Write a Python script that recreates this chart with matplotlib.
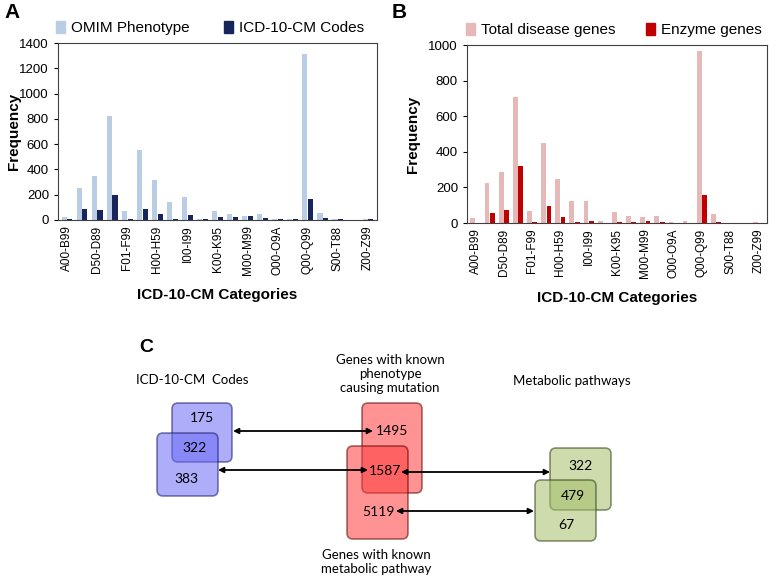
import numpy as np
import matplotlib
matplotlib.use('Agg')
import matplotlib.pyplot as plt
from matplotlib.patches import FancyBboxPatch, Patch

plt.rcParams['font.family'] = ['Liberation Sans', 'DejaVu Sans']

# ICD-10-CM chapters
categories = ['A00-B99', 'C00-D49', 'D50-D89', 'E00-E89', 'F01-F99', 'G00-G99',
              'H00-H59', 'H60-H95', 'I00-I99', 'J00-J99', 'K00-K95', 'L00-L99',
              'M00-M99', 'N00-N99', 'O00-O9A', 'P00-P96', 'Q00-Q99', 'R00-R99',
              'S00-T88', 'V00-Y99', 'Z00-Z99']

# panel A
omim_pheno = [25, 250, 345, 820, 75, 555, 315, 140, 180, 5, 70, 45, 35, 45, 5, 5, 1315, 55, 5, 0, 5]
icd_codes = [10, 90, 80, 195, 10, 90, 45, 10, 40, 10, 25, 25, 30, 15, 8, 10, 170, 15, 8, 0, 8]

# panel B
total_genes = [28, 222, 287, 710, 68, 452, 245, 125, 125, 12, 62, 38, 36, 42, 5, 12, 968, 52, 2, 0, 5]
enzyme_genes = [0, 58, 73, 322, 7, 93, 32, 7, 12, 0, 7, 7, 12, 7, 0, 0, 157, 7, 0, 0, 0]

# panel C numbers
icd_counts = [175, 322, 383]
gene_counts = [1495, 1587, 5119]
path_counts = [322, 479, 67]

W, H = 778, 579
fig = plt.figure(figsize=(W / 100, H / 100), dpi=100)


def px_axes(l, t, r, b):
    return fig.add_axes([l / W, 1 - b / H, (r - l) / W, (b - t) / H])


def bar_panel(ax, s1, s2, c1, c2, ymax, ystep, ylab_x):
    x = np.arange(len(categories))
    ax.bar(x - 0.19, s1, width=0.34, color=c1)
    ax.bar(x + 0.19, s2, width=0.34, color=c2)
    ax.set_xlim(-0.6, len(categories) - 0.4)
    ax.set_ylim(0, ymax)
    ax.set_yticks(np.arange(0, ymax + 1, ystep))
    ax.set_xticks(x[::2])
    ax.set_xticklabels(categories[::2], rotation=90, fontsize=8.5)
    ax.tick_params(axis='x', length=0, pad=4)
    ax.tick_params(axis='y', labelsize=9.5, length=3)
    for s in ax.spines.values():
        s.set_color('#404040')
        s.set_linewidth(0.8)
    ax.set_ylabel('Frequency', fontsize=11, fontweight='bold')
    ax.yaxis.set_label_coords(ylab_x, 0.5)
    ax.set_xlabel('ICD-10-CM Categories', fontsize=11, fontweight='bold', labelpad=9)


axA = px_axes(58, 43, 377, 220)
bar_panel(axA, omim_pheno, icd_codes, '#b9cde5', '#17255a', 1400, 200, -0.115)
axA.legend(handles=[Patch(color='#b9cde5', label='OMIM Phenotype'),
                    Patch(color='#17255a', label='ICD-10-CM Codes')],
           loc='lower left', bbox_to_anchor=(-0.03, 1.0), ncol=2, frameon=False,
           fontsize=11, handlelength=0.6, handleheight=0.9, columnspacing=2.2,
           handletextpad=0.4, borderaxespad=0.1)

axB = px_axes(467, 45, 767, 223)
bar_panel(axB, total_genes, enzyme_genes, '#e6b9b8', '#c00000', 1000, 200, -0.157)
axB.legend(handles=[Patch(color='#e6b9b8', label='Total disease genes'),
                    Patch(color='#c00000', label='Enzyme genes')],
           loc='lower left', bbox_to_anchor=(-0.03, 1.0), ncol=2, frameon=False,
           fontsize=11, handlelength=0.6, handleheight=0.9, columnspacing=2.0,
           handletextpad=0.4, borderaxespad=0.1)

fig.text(4 / W, 1 - 12 / H, 'A', fontsize=15, fontweight='bold', va='center')
fig.text(392 / W, 1 - 12 / H, 'B', fontsize=15, fontweight='bold', va='center')

# panel C: overlay in pixel coordinates
axC = fig.add_axes([0, 0, 1, 1], zorder=-1)
axC.set_xlim(0, W)
axC.set_ylim(H, 0)
axC.axis('off')

nf = ['Lato', 'DejaVu Sans']


def box(x0, y0, x1, y1, fc, ec):
    axC.add_patch(FancyBboxPatch((x0 + 6, y0 + 6), x1 - x0 - 12, y1 - y0 - 12,
                                 boxstyle='round,pad=6', fc=fc, ec=ec, lw=1.2, alpha=0.55))


box(172, 403, 232, 462, '#6a6af5', '#1a1a6a')
box(157, 433, 218, 496, '#6a6af5', '#1a1a6a')
box(362, 403, 422, 493, '#ff3a3a', '#5a0000')
box(347, 446, 408, 539, '#ff3a3a', '#5a0000')
box(550, 448, 611, 510, '#a4bf6a', '#2f3f10')
box(535, 480, 596, 541, '#a4bf6a', '#2f3f10')

num_pos = [((202, 418), (195, 448), (186, 479)),
           ((392, 431), (385, 471), (378, 512)),
           ((581, 466), (573, 496), (566, 525))]
for counts, pos in zip([icd_counts, gene_counts, path_counts], num_pos):
    for v, (xx, yy) in zip(counts, pos):
        axC.text(xx, yy, str(v), ha='center', va='center', fontsize=10, family=nf)

for (xa, xb, yy) in [(233, 373, 431), (218, 368, 470), (401, 550, 472), (396, 534, 511)]:
    axC.annotate('', xy=(xb, yy), xytext=(xa, yy),
                 arrowprops=dict(arrowstyle='<|-|>', color='black', lw=1.3,
                                 mutation_scale=8, shrinkA=0, shrinkB=0))

axC.text(146, 348, 'C', fontsize=14, fontweight='bold', ha='center', va='center')
axC.text(192, 380, 'ICD-10-CM  Codes', fontsize=9.5, ha='center', va='center', family=nf)
axC.text(390, 374, 'Genes with known\nphenotype\ncausing mutation', fontsize=9.5,
         ha='center', va='center', family=nf, linespacing=1.2)
axC.text(572, 381, 'Metabolic pathways', fontsize=9.5, ha='center', va='center', family=nf)
axC.text(376, 562, 'Genes with known\nmetabolic pathway', fontsize=9.5,
         ha='center', va='center', family=nf, linespacing=1.2)

fig.savefig('out.png', dpi=100)
